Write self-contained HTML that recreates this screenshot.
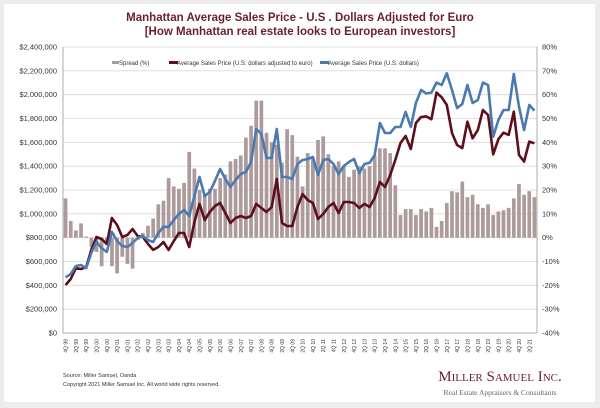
<!DOCTYPE html>
<html><head><meta charset="utf-8"><style>
html,body{margin:0;padding:0;background:#ececec;}
#card{position:absolute;left:4px;top:4px;width:591px;height:398px;background:#fff;}
svg{position:absolute;left:0;top:0;}
text{font-family:"Liberation Sans",sans-serif;}
text.serif{font-family:"Liberation Serif",serif;}
</style></head><body>
<div id="card"></div>
<svg id="chart" width="600" height="408">
<text x="300" y="21" text-anchor="middle" font-size="11.5" font-weight="bold" fill="#6b1f2e">Manhattan Average Sales Price - U.S . Dollars Adjusted for Euro</text>
<text x="300" y="35" text-anchor="middle" font-size="11.5" font-weight="bold" fill="#6b1f2e">[How Manhattan real estate looks to European investors]</text>
<g id="grid"></g><g id="bars"></g><g id="lines"></g><g id="axes"></g>
<g font-size="6">
<rect x="112" y="61" width="7" height="3" fill="#ad9a9a"/>
<text x="119" y="65" fill="#333">Spread (%)</text>
<rect x="169" y="61" width="9" height="3" fill="#5c0f1c"/>
<text x="177" y="65" fill="#333">Average Sales Price (U.S. dollars adjusted to euro)</text>
<rect x="320" y="61" width="9" height="3" fill="#4a7ab0"/>
<text x="328" y="65" fill="#333">Average Sales Price (U.S. dollars)</text>
</g>
<text x="63" y="377" font-size="5.5" fill="#333">Source: Miller Samuel, Oanda</text>
<text x="63" y="386" font-size="5.5" fill="#333">Copyright 2021 Miller Samuel Inc.  All world wide rights reserved.</text>
<text class="serif" x="500" y="381" text-anchor="middle" font-size="15" fill="#6b1f2e" style="font-variant:small-caps">Miller Samuel Inc.</text>
<text class="serif" x="500" y="395" text-anchor="middle" font-size="7.5" fill="#666">Real Estate Appraisers &amp; Consultants</text>
</svg>
<script>
const spread=[16.5,7,3,6,0.5,-4,-6,-12,-3,-12,-15,-8,-11,-13,-1,2,5,8,14,15.5,25,21.5,20.5,23,
36,29,20,18,20.5,20.5,25,26.5,32,33,34.5,42,47,57.5,57.5,44,40,39,31.5,45.5,43,34,21.5,
35.5,33,41,42.5,35,30,32,30,25.5,28.5,30,29,30,34.5,37.5,37.5,35.5,22,
9.5,12,12,9.5,12,11,12.5,4.5,7,14.5,19.5,19,23.5,17,18,14,12.5,14,9.5,11,11.5,12.5,16.5,22.5,18,19.5,17];
const usd=[467,495,562,571,545,671,764,713,680,848,772,730,722,755,797,814,780,764,839,890,890,948,999,1032,
982,1150,1309,1150,1183,1276,1376,1292,1225,1284,1334,1351,1435,1712,1670,1469,1469,1712,1309,1309,1292,1418,1452,
1460,1477,1326,1452,1460,1418,1334,1401,1435,1460,1343,1418,1427,1494,1762,1678,1678,1729,1729,1855,1729,1930,2039,
2011,2017,2101,2081,2179,2039,1888,1922,2081,1930,1955,2101,2081,1647,1787,1871,1871,2174,1899,1703,1913,1866];
const euro=[403,453,545,537,554,697,806,789,747,965,906,806,822,873,814,806,747,697,722,764,697,772,839,839,
722,931,1083,948,1015,1066,1091,1007,923,965,982,965,982,1083,1049,1015,1057,1292,923,898,898,1057,1166,
1116,1091,957,999,1057,1091,1007,1099,1099,1091,1049,1083,1057,1133,1267,1225,1326,1452,1594,1653,1544,1762,1813,
1818,1793,2017,1978,1913,1678,1578,1552,1773,1634,1703,1871,1829,1500,1626,1681,1662,1857,1494,1438,1606,1592];
const leftTicks=[0,200,400,600,800,1000,1200,1400,1600,1800,2000,2200,2400];
const rightTicks=[-40,-30,-20,-10,0,10,20,30,40,50,60,70,80];
const startQ=4, startY=1998;
const NS="http://www.w3.org/2000/svg";
const X0=63,X1=537,Y0=333,Y1=47,N=spread.length,bw=(X1-X0)/N;
const xc=i=>X0+bw*(i+0.5);
const yL=v=>Y0-(v/2400)*(Y0-Y1);
const yR=p=>Y0-((p+40)/120)*(Y0-Y1);
function mk(t,a,p){const e=document.createElementNS(NS,t);for(const k in a)e.setAttribute(k,a[k]);p.appendChild(e);return e;}
const grid=document.getElementById('grid'),axes=document.getElementById('axes');
leftTicks.forEach((v,i)=>{
 const y=yL(v);
 const g=mk('line',{x1:X0,x2:X1,y1:y,y2:y,stroke:'#d9d9d9','stroke-width':0.8},grid);
 
 
 const t=mk('text',{x:X0-6,y:y+2.5,'text-anchor':'end','font-size':7.5,fill:'#333'},axes);
 t.textContent='$'+(v*1000).toLocaleString('en-US');
 
 
});
rightTicks.forEach(p=>{
 const t=mk('text',{x:X1+5,y:yR(p)+2.5,'font-size':7.5,fill:'#333'},axes);
 t.textContent=p+'%';
 
 
});
[X0,X1].forEach(x=>{const a=mk('line',{x1:x,x2:x,y1:Y1,y2:Y0,stroke:'#999','stroke-width':0.8},axes);
 
 });
const xa=mk('line',{x1:X0,x2:X1,y1:Y0,y2:Y0,stroke:'#999','stroke-width':0.8},axes);


const bars=document.getElementById('bars');
spread.forEach((p,i)=>{
 const y=yR(p),y0=yR(0);
 const r=mk('rect',{x:xc(i)-bw*0.36,width:bw*0.72,y:Math.min(y,y0),height:Math.abs(y-y0),fill:'#ad9a9a'},bars);
 
 
 let q=startQ-1+i, yr=startY+Math.floor(q/4); q=q%4+1;
 if(i%2===0){
  const x=xc(i)+2;
  const t=mk('text',{x:x,y:Y0+6,'font-size':5,fill:'#333','text-anchor':'end',transform:`rotate(-90 ${x} ${Y0+6})`},axes);
  t.textContent=q+'Q '+String(yr%100).padStart(2,'0');
  
  
 }
});
const lines=document.getElementById('lines');
function line(arr,color,name){
 const d=arr.map((v,i)=>(i?'L':'M')+xc(i).toFixed(1)+','+yL(v).toFixed(1)).join('');
 const p=mk('path',{d:d,fill:'none',stroke:color,'stroke-width':2.6,'stroke-linejoin':'round'},lines);
 
 
}
line(euro,'#5c0f1c','euro-adjusted-price-line');
line(usd,'#4a7ab0','usd-price-line');
</script>
</body></html>
